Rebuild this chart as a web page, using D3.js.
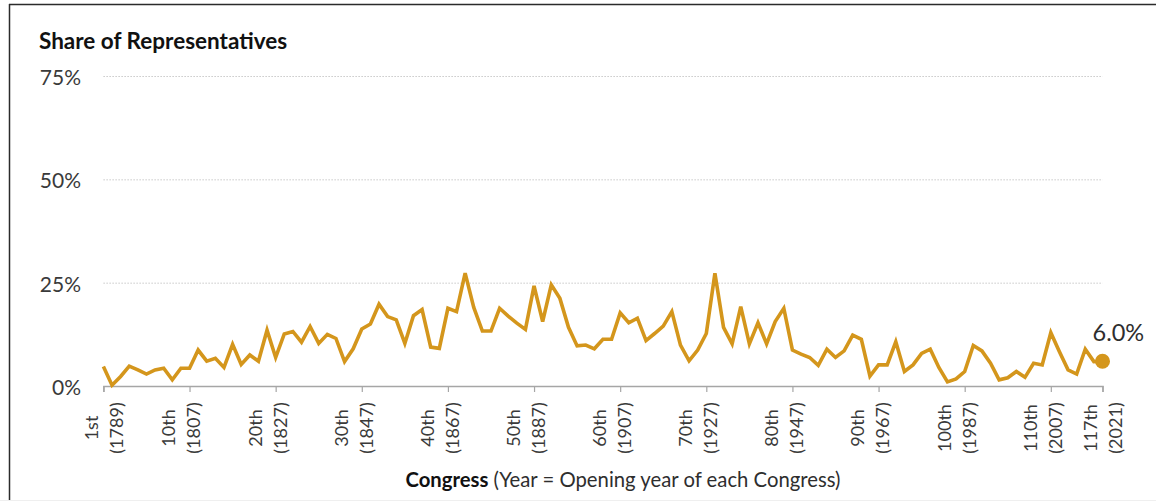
<!DOCTYPE html>
<html>
<head>
<meta charset="utf-8">
<script src="https://cdn.jsdelivr.net/npm/d3@7"></script>
<style>
  html, body { margin: 0; padding: 0; background: #fff; }
  svg { display: block; }
  text { font-family: Lato, "Open Sans", sans-serif; }
</style>
</head>
<body>
<svg id="chart" width="1156" height="501"></svg>
<script>
// ---- Data ----
const congressNumbers = d3.range(1, 118); // 1st .. 117th Congress
const shareValues = [
  4.7, 0.2, 2.3, 4.8, 3.9, 2.9, 3.9, 4.3, 1.5, 4.3,
  4.3, 8.7, 6.0, 6.7, 4.5, 10.1, 5.2, 7.5, 6.0, 13.5,
  6.9, 12.6, 13.2, 10.6, 14.4, 10.3, 12.5, 11.5, 5.9, 9.0,
  13.8, 15.0, 19.8, 16.8, 16.0, 10.3, 17.0, 18.5, 9.4, 9.1,
  18.8, 18.0, 27.3, 19.0, 13.3, 13.3, 18.8, 16.9, 15.2, 13.7,
  24.2, 15.6, 24.5, 21.2, 14.2, 9.7, 9.9, 9.0, 11.3, 11.3,
  17.7, 15.3, 16.4, 11.0, 12.7, 14.5, 18.0, 9.9, 6.1, 8.7,
  12.7, 27.3, 14.2, 10.2, 19.2, 10.2, 15.3, 10.2, 15.6, 18.8,
  8.7, 7.7, 6.9, 5.0, 8.9, 6.9, 8.5, 12.3, 11.3, 2.4,
  5.1, 5.1, 10.7, 3.5, 5.1, 7.9, 8.9, 4.5, 1.0, 1.7,
  3.5, 9.8, 8.5, 5.5, 1.5, 2.0, 3.5, 2.1, 5.5, 5.1,
  12.9, 8.3, 3.9, 2.9, 8.9, 5.9, 6.0
];
const yTickValues = [0, 25, 50, 75];
const yTickLabels = ["0%", "25%", "50%", "75%"];
const xTickMarks = [1, 11, 21, 31, 41, 51, 61, 71, 81, 91, 101, 111, 117];
const xLabelCongress = [1, 10, 20, 30, 40, 50, 60, 70, 80, 90, 100, 110, 117];
const xLabelOrdinal = ["1st", "10th", "20th", "30th", "40th", "50th", "60th", "70th", "80th", "90th", "100th", "110th", "117th"];
const xLabelYear = ["(1789)", "(1807)", "(1827)", "(1847)", "(1867)", "(1887)", "(1907)", "(1927)", "(1947)", "(1967)", "(1987)", "(2007)", "(2021)"];
const lastLabel = "6.0%";

// ---- Layout ----
const svg = d3.select("#chart");
const W = 1156, H = 501;
const lineColor = "#D4961C";
const x = d3.scaleLinear().domain([1, 117]).range([103.4, 1102.5]);
const y = d3.scaleLinear().domain([0, 75]).range([386, 76]);

// frame (top & left border, bottom strip)
svg.append("rect").attr("x", 0).attr("y", 0).attr("width", W).attr("height", H).attr("fill", "#fff");
svg.append("rect").attr("x", 0).attr("y", 500).attr("width", W).attr("height", 1).attr("fill", "#efefef");
svg.append("line").attr("x1", 9).attr("x2", W).attr("y1", 4.5).attr("y2", 4.5)
  .attr("stroke", "#2b2b2b").attr("stroke-width", 1.5);
svg.append("line").attr("x1", 9.5).attr("x2", 9.5).attr("y1", 4).attr("y2", 500)
  .attr("stroke", "#2b2b2b").attr("stroke-width", 1.5);

// gridlines
svg.append("g").selectAll("line")
  .data(yTickValues.filter(v => v > 0))
  .join("line")
  .attr("x1", x(1)).attr("x2", x(117))
  .attr("y1", d => y(d) + 0.5).attr("y2", d => y(d) + 0.5)
  .attr("stroke", "#c9c9c9").attr("stroke-width", 1)
  .attr("stroke-dasharray", "1.5,1.5");

// y labels
svg.append("g").selectAll("text")
  .data(yTickValues)
  .join("text")
  .attr("x", 81)
  .attr("y", d => y(d) + 0.5)
  .attr("text-anchor", "end")
  .attr("dominant-baseline", "central")
  .attr("font-size", 21)
  .attr("fill", "#3a3a3a")
  .text((d, i) => yTickLabels[i]);

// x axis
const xAxis = d3.axisBottom(x).tickValues(xTickMarks).tickSize(6).tickSizeOuter(6).tickFormat("");
const gx = svg.append("g").attr("transform", `translate(0,${y(0)})`).call(xAxis);
gx.select(".domain").attr("stroke", "#a6a6a6").attr("stroke-width", 1.5);
gx.selectAll(".tick line").attr("stroke", "#a6a6a6").attr("stroke-width", 1.2);

// x labels (rotated, two lines)
const lab = svg.append("g").selectAll("g")
  .data(xLabelCongress)
  .join("g")
  .attr("transform", d => `translate(${x(d)},428) rotate(-90)`);
lab.append("text")
  .attr("x", 0).attr("y", -12.5)
  .attr("text-anchor", "middle").attr("dominant-baseline", "central")
  .attr("font-size", 18).attr("fill", "#3a3a3a")
  .text((d, i) => xLabelOrdinal[i]);
lab.append("text")
  .attr("x", 0).attr("y", 12.5)
  .attr("text-anchor", "middle").attr("dominant-baseline", "central")
  .attr("font-size", 18).attr("fill", "#3a3a3a")
  .text((d, i) => xLabelYear[i]);

// line
const line = d3.line()
  .x((d, i) => x(congressNumbers[i]))
  .y(d => y(d));
svg.append("path")
  .datum(shareValues)
  .attr("d", line)
  .attr("fill", "none")
  .attr("stroke", lineColor)
  .attr("stroke-width", 3.6)
  .attr("stroke-linejoin", "miter");

// last point marker + label
const lastI = shareValues.length - 1;
svg.append("circle")
  .attr("cx", x(congressNumbers[lastI]))
  .attr("cy", y(shareValues[lastI]))
  .attr("r", 7.5)
  .attr("fill", lineColor);
svg.append("text")
  .attr("x", x(congressNumbers[lastI]) - 10)
  .attr("y", y(shareValues[lastI]) - 20)
  .attr("font-size", 23.5)
  .attr("fill", "#2e2e2e")
  .text(lastLabel);

// title
svg.append("text")
  .attr("x", 39).attr("y", 49)
  .attr("font-size", 22.5).attr("font-weight", "bold")
  .attr("fill", "#111")
  .text("Share of Representatives");

// x axis title
const xt = svg.append("text")
  .attr("x", 623).attr("y", 487)
  .attr("text-anchor", "middle")
  .attr("font-size", 20.3).attr("fill", "#2e2e2e");
xt.append("tspan").attr("font-weight", "bold").attr("fill", "#111").text("Congress");
xt.append("tspan").text(" (Year = Opening year of each Congress)");
</script>
</body>
</html>
